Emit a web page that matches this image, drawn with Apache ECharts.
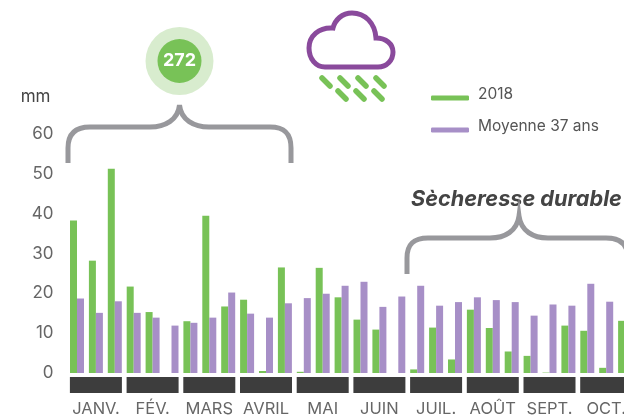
<!DOCTYPE html>
<html><head><meta charset="utf-8">
<script src="https://cdn.jsdelivr.net/npm/echarts@6/dist/echarts.min.js"></script>
<style>html,body{margin:0;padding:0;background:#fff}#c{width:624px;height:420px;overflow:hidden}</style>
</head><body><div id="c"></div>
<script>
const decades = ['J1','J2','J3','F1','F2','F3','M1','M2','M3','A1','A2','A3','Ma1','Ma2','Ma3','Jn1','Jn2','Jn3','Jl1','Jl2','Jl3','Ao1','Ao2','Ao3','S1','S2','S3','O1','O2','O3'];
const rain2018 = [38.3,28.2,51.3,21.7,15.3,0,13,39.5,16.7,18.4,0.5,26.5,0.3,26.4,19,13.4,10.9,0,0.9,11.4,3.4,15.9,11.3,5.4,4.3,0.1,11.9,10.6,1.3,13.1];
const rainAvg = [18.7,15.1,18,15.1,13.9,11.9,12.6,13.9,20.2,14.9,13.9,17.5,18.8,19.9,21.9,22.9,16.6,19.2,21.9,16.9,17.8,19,18.3,17.8,14.4,17.2,16.9,22.4,17.9,null];
const months = ['JANV.','FÉV.','MARS','AVRIL','MAI','JUIN','JUIL.','AOÛT','SEPT.','OCT.'];
const monthBand = [1,1,1,1,1,1,1,1,1,1];
const FONT = 'Inter, "Open Sans", sans-serif';
const GREEN='#78c257', PURPLE='#a78fc7', GRAY='#98989c', TXT='#666666', DARK='#3d3d3d';
const outline = (d,stroke,lineWidth) => ({type:'path',shape:{pathData:d},style:{fill:'none',stroke,lineWidth}});
const drop = (x1,y1,x2,y2) => ({type:'line',shape:{x1,y1,x2,y2},style:{stroke:GREEN,lineWidth:5.5,lineCap:'round'}});
const chart = echarts.init(document.getElementById('c'),null,{renderer:'canvas'});
chart.setOption({
  animation:false,
  backgroundColor:'#fff',
  legend:{orient:'vertical',left:426,top:81,itemWidth:38,itemHeight:5,itemGap:10,icon:'roundRect',
    formatter:n=>'{t|'+n+'}\n{s| }',
    textStyle:{rich:{t:{fontFamily:FONT,fontSize:15.5,color:'#555',lineHeight:16,padding:[0,0,0,4]},s:{fontSize:4,lineHeight:8}}},
    data:['2018','Moyenne 37 ans']},
  grid:[{left:67.55,top:134,width:567,height:239,outerBoundsMode:'none'},{left:67.55,top:377,width:567,height:16,outerBoundsMode:'none'}],
  xAxis:[
    {type:'category',gridIndex:0,data:decades,show:false},
    {type:'category',gridIndex:1,data:months,axisLine:{show:false},axisTick:{show:false},
     axisLabel:{fontFamily:FONT,fontSize:16.5,color:TXT,margin:8,interval:0,hideOverlap:false}}
  ],
  yAxis:[
    {type:'value',gridIndex:0,min:0,max:60,interval:10,splitLine:{show:false},axisLine:{show:false},axisTick:{show:false},
     name:'mm',nameLocation:'end',nameGap:29,nameTextStyle:{fontFamily:FONT,fontSize:17,color:'#444',align:'center',padding:[0,64,0,0]},
     axisLabel:{fontFamily:FONT,fontSize:17,color:TXT,margin:14,padding:[0,0,6,0]}},
    {type:'value',gridIndex:1,min:0,max:1,show:false}
  ],
  series:[
    {name:'2018',type:'bar',xAxisIndex:0,yAxisIndex:0,data:rain2018,barWidth:7,barGap:'0%',itemStyle:{color:GREEN}},
    {name:'Moyenne 37 ans',type:'bar',xAxisIndex:0,yAxisIndex:0,data:rainAvg,barWidth:7,barGap:'0%',itemStyle:{color:PURPLE}},
    {name:'mois',type:'bar',xAxisIndex:1,yAxisIndex:1,data:monthBand,barWidth:52,itemStyle:{color:DARK},silent:true},
    {name:'deco',type:'custom',coordinateSystem:'none',silent:true,data:[0],
     renderItem:()=>({type:'group',children:[
       outline('M68 163 V148 C68 134 75 127 90 127 H150 C165 127 178 120 179.5 105 C181 120 194 127 209 127 H270 C285 127 291 134 291 148 V163',GRAY,5),
       outline('M407 274 V258 C407 244 414 238 428 238 H490 C505 238 517 231 519 216 C521 231 533 238 548 238 H606 C620 238 628 244 628 258',GRAY,5),
       outline('M325 67 H378 C387 67 393 60 393 52 C393 44 386 38 376 38 C375 23 365 13 352 13 C342 13 335 20 333 28 C319 27 309 36 309 48 C309 59 316 67 325 67 Z','#8a4a9c',5),
       drop(322,78,330,86),drop(340,78,348,86),drop(358,78,366,86),drop(376,78,384,86),
       drop(338,91,346,99),drop(356,91,364,99),drop(374,91,382,99)
     ]})}
  ],
  graphic:[
    {type:'circle',shape:{cx:179.5,cy:61,r:34},style:{fill:'#d8ecce'}},
    {type:'circle',shape:{cx:179.5,cy:61,r:22},style:{fill:GREEN}},
    {type:'text',style:{x:179.5,y:61,text:'272',fill:'#fff',font:'bold 18px '+FONT,align:'center',verticalAlign:'middle'}},
    {type:'text',style:{x:411,y:199,text:'Sècheresse durable',fill:'#444',font:'italic bold 21.7px '+FONT,verticalAlign:'middle'}}
  ]
});
</script></body></html>
